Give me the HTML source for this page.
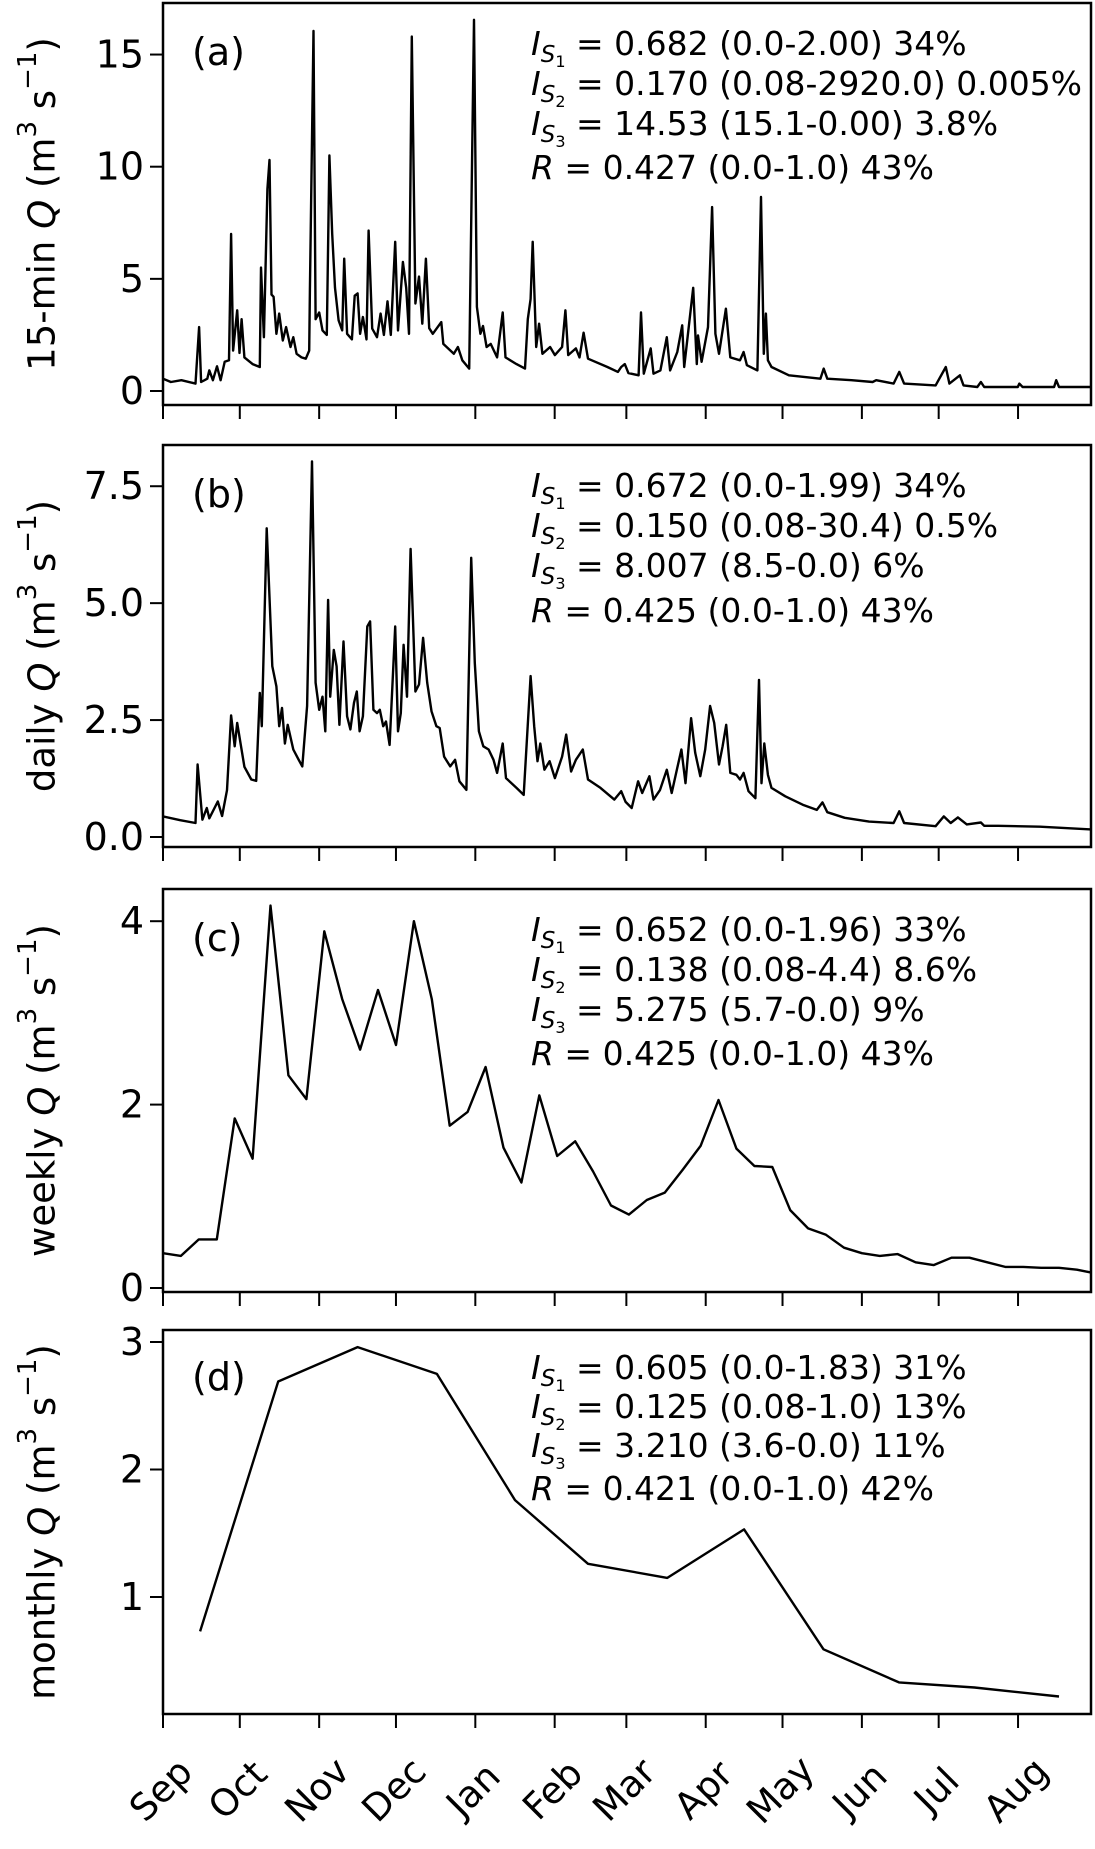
<!DOCTYPE html>
<html><head><meta charset="utf-8"><style>
html,body{margin:0;padding:0;background:#fff}
svg{display:block;font-family:"DejaVu Sans","Liberation Sans",sans-serif}
</style></head><body>
<svg id="chart" width="1095" height="1849" viewBox="0 0 1095 1849"></svg>
<script>
const months=["Sep","Oct","Nov","Dec","Jan","Feb","Mar","Apr","May","Jun","Jul","Aug"];
const monthStartDays=[0,30,61,91,122,153,181,212,242,273,303,334];
// (a) 15-min
const qDays15=[0,3.1,7.2,12.7,14.1,14.9,17.3,18.1,19.5,21.1,22.5,24.1,25.8,26.6,27.4,29.0,29.9,30.7,31.8,35.0,37.8,38.3,39.4,40.8,41.6,42.4,43.2,44.3,45.4,46.8,48.1,49.8,50.9,52.2,54.1,55.8,57.1,57.4,58.8,59.6,61.0,62.3,64.0,65.0,66.1,67.2,68.6,70.0,70.8,71.9,73.8,74.9,76.0,77.0,78.1,79.5,80.3,81.7,83.6,85.0,86.3,87.7,89.0,90.7,91.8,93.7,95.0,96.1,97.2,98.6,100.0,101.3,102.7,104.0,105.4,108.7,109.5,113.6,115.2,116.9,119.6,121.5,122.6,124.0,125.0,126.4,128.0,130.5,132.7,133.8,138.1,141.4,142.5,143.6,144.4,145.8,146.9,148.2,151.2,153.1,155.9,157.2,158.3,161.3,162.7,164.3,166.0,173.6,177.7,179.0,180.4,181.8,185.8,186.7,187.8,190.5,191.6,194.3,196.8,198.1,200.9,202.8,203.6,207.1,208.5,209.0,210.4,212.9,214.5,215.8,217.2,219.9,221.6,225.4,226.8,228.1,232.2,233.6,234.7,235.5,236.3,237.7,244.5,256.8,258.1,259.5,269.0,277.2,278.6,285.4,287.6,289.5,301.8,305.8,307.2,311.3,312.7,318.1,319.5,320.8,333.9,334.5,335.8,348.1,348.9,350.0,362.6];
const qVals15=[0.55,0.4,0.48,0.33,2.85,0.4,0.55,0.92,0.48,1.1,0.48,1.3,1.37,7.0,1.8,3.6,1.7,3.2,1.5,1.2,1.07,5.5,2.4,9.0,10.3,4.3,4.2,2.55,3.45,2.25,2.85,1.96,2.4,1.66,1.5,1.44,1.8,4.5,16.05,3.2,3.5,2.7,2.5,10.5,7.0,4.6,3.15,2.7,5.9,2.55,2.3,4.25,4.35,2.55,3.3,2.3,7.15,2.78,2.4,3.45,2.5,4.0,2.5,6.65,2.7,5.75,4.6,2.55,15.8,3.9,5.1,3.0,5.9,2.8,2.55,3.07,2.1,1.66,1.96,1.37,1.0,16.55,3.75,2.55,2.9,1.96,2.1,1.5,3.5,1.5,1.2,1.0,3.2,4.1,6.65,1.96,3.0,1.66,1.96,1.6,1.96,3.6,1.6,1.9,1.5,2.6,1.44,1.07,0.85,1.07,1.2,0.8,0.7,3.5,0.77,1.9,0.77,0.92,2.4,0.92,1.74,2.93,1.07,4.6,1.2,2.48,1.3,2.85,8.2,2.55,1.66,3.67,1.5,1.37,1.74,1.15,0.92,8.65,1.66,3.45,1.37,1.07,0.7,0.55,1.0,0.55,0.48,0.4,0.48,0.33,0.85,0.33,0.25,1.07,0.33,0.7,0.25,0.18,0.4,0.18,0.18,0.33,0.18,0.18,0.48,0.18,0.18];
// (b) daily
const qDaysD=[0,6.7,12.7,13.5,15.4,17.1,18.1,21.4,23.1,25,26.6,28,29,30.4,31.8,34.5,36.4,37.8,38.6,40.5,42.7,44.3,45.4,46.5,47.6,48.7,50.9,53,54.4,56.3,58.2,59.6,61,62.3,63.4,64.5,65.3,66.7,67.8,68.9,70.5,71.9,73.2,74.6,75.7,76.8,78.1,79.8,80.9,82.2,83.6,84.7,86,87.1,88.5,90.7,91.8,92.9,94,95.3,96.7,98.6,100,101.6,103.2,104.9,106.8,108.1,109.8,112.2,114.1,115.8,118.5,120.4,121.8,123.4,125.1,127.2,129.1,130.5,132.7,134,138.1,140.9,143.6,145,146.3,147.4,149,151,153.1,155.9,157.5,159.4,161.3,164,166,170.9,176.3,179,180.7,183.1,185.6,187.2,190,191.6,194.1,196.8,198.7,200.9,202.5,204.1,206.3,207.9,209.9,211.8,213.7,215.3,217.2,218.6,220,221.6,224,225.4,226.8,228.7,231.4,232.8,233.8,234.9,236.3,237.7,243.1,249.9,255.4,257.6,259.5,266.3,275.8,285.4,287.6,289.5,301.8,305,307.7,310.5,314,319.5,320.8,326.3,342.6,362.6];
const qValsD=[0.44,0.36,0.3,1.55,0.37,0.62,0.4,0.76,0.45,1.0,2.6,1.94,2.44,1.97,1.5,1.23,1.2,3.08,2.37,6.6,3.65,3.22,2.37,2.76,2.0,2.4,1.87,1.65,1.51,2.8,8.03,3.3,2.72,3.0,2.26,5.07,3.0,4.0,3.65,2.4,4.18,2.58,2.3,2.87,3.11,2.26,2.58,4.5,4.61,2.72,2.65,2.72,2.37,2.47,1.97,4.5,2.26,2.65,4.11,3.0,6.16,3.11,3.26,4.26,3.3,2.69,2.37,2.33,1.72,1.51,1.65,1.19,1.01,5.97,3.72,2.26,1.94,1.87,1.65,1.37,2.0,1.26,1.05,0.9,3.44,2.37,1.62,2.0,1.44,1.62,1.26,1.72,2.19,1.4,1.65,1.87,1.23,1.05,0.8,0.98,0.75,0.62,1.19,0.94,1.3,0.8,1.0,1.44,0.94,1.48,1.87,1.15,2.54,1.8,1.3,1.87,2.8,2.44,1.55,1.94,2.4,1.37,1.33,1.23,1.37,0.98,0.83,3.36,1.15,2.0,1.33,1.05,0.87,0.69,0.58,0.74,0.53,0.41,0.33,0.3,0.55,0.3,0.23,0.44,0.3,0.42,0.27,0.31,0.24,0.24,0.22,0.16];
// (c) weekly (one value per week starting day 0)
const qWeekly=[0.38,0.35,0.53,0.53,1.85,1.41,4.17,2.32,2.06,3.89,3.15,2.6,3.25,2.65,4.0,3.15,1.77,1.92,2.41,1.53,1.15,2.1,1.44,1.6,1.27,0.9,0.8,0.96,1.04,1.29,1.55,2.05,1.52,1.33,1.32,0.85,0.65,0.58,0.44,0.38,0.35,0.37,0.28,0.25,0.33,0.33,0.28,0.23,0.23,0.22,0.22,0.2,0.16];
// (d) monthly
const qMonthDays=[14.5,45,76,107,137.5,166,197,227,258,287.5,317,350];
const qMonthly=[0.73,2.69,2.96,2.75,1.76,1.26,1.15,1.53,0.59,0.33,0.29,0.22];

const NS="http://www.w3.org/2000/svg";
const svg=document.getElementById('chart');
function el(tag,attrs,parent){const e=document.createElementNS(NS,tag);for(const k in attrs)e.setAttribute(k,attrs[k]);(parent||svg).appendChild(e);return e;}
const X0=163,X1=1091,PX=2.56;
function xs(d){return X0+d*PX;}

const panels=[
 {key:'a',top:3,bot:405,y:v=>391-v*22.43,ticks:[0,5,10,15],tl:['0','5','10','15'],ylab:'15-min',lab:'(a)',labY:62,
  stats:[['1','0.682 (0.0-2.00) 34%'],['2','0.170 (0.08-2920.0) 0.005%'],['3','14.53 (15.1-0.00) 3.8%'],['R','0.427 (0.0-1.0) 43%']],sy:[52,92,132,176]},
 {key:'b',top:445,bot:847,y:v=>837-v*46.77,ticks:[0,2.5,5,7.5],tl:['0.0','2.5','5.0','7.5'],ylab:'daily',lab:'(b)',labY:62,
  stats:[['1','0.672 (0.0-1.99) 34%'],['2','0.150 (0.08-30.4) 0.5%'],['3','8.007 (8.5-0.0) 6%'],['R','0.425 (0.0-1.0) 43%']],sy:[52,92,132,177]},
 {key:'c',top:889,bot:1292,y:v=>1288-v*91.7,ticks:[0,2,4],tl:['0','2','4'],ylab:'weekly',lab:'(c)',labY:62,
  stats:[['1','0.652 (0.0-1.96) 33%'],['2','0.138 (0.08-4.4) 8.6%'],['3','5.275 (5.7-0.0) 9%'],['R','0.425 (0.0-1.0) 43%']],sy:[52,92,132,176]},
 {key:'d',top:1330,bot:1714,y:v=>1597-(v-1)*127.5,ticks:[1,2,3],tl:['1','2','3'],ylab:'monthly',lab:'(d)',labY:60,
  stats:[['1','0.605 (0.0-1.83) 31%'],['2','0.125 (0.08-1.0) 13%'],['3','3.210 (3.6-0.0) 11%'],['R','0.421 (0.0-1.0) 42%']],sy:[49,88,127,170]}
];
const series={
 a:[qDays15,qVals15],
 b:[qDaysD,qValsD],
 c:[qWeekly.map((v,i)=>i*7),qWeekly],
 d:[qMonthDays,qMonthly]
};
const defs=el('defs',{});
panels.forEach(p=>{
  const g=el('g',{});
  
  
  const cp=el('clipPath',{id:'clip'+p.key},defs);
  el('rect',{x:X0,y:p.top,width:X1-X0,height:p.bot-p.top},cp);
  const [ds,vs]=series[p.key];
  let d='';
  ds.forEach((dd,i)=>{d+=(i?'L':'M')+xs(dd).toFixed(1)+','+p.y(vs[i]).toFixed(1);});
  const line=el('path',{d:d,fill:'none',stroke:'#000','stroke-width':2.4,'stroke-linejoin':'round','clip-path':'url(#clip'+p.key+')'},g);
  
  
  const fr=el('rect',{x:X0,y:p.top,width:X1-X0,height:p.bot-p.top,fill:'none',stroke:'#000','stroke-width':2.5},g);
  
  
  p.ticks.forEach((t,i)=>{
    const yy=p.y(t);
    el('line',{x1:X0-13,x2:X0,y1:yy,y2:yy,stroke:'#000','stroke-width':2},g);
    const tx=el('text',{x:X0-19,y:yy,'text-anchor':'end','dominant-baseline':'central','font-size':38},g);
    tx.textContent=p.tl[i];
    
    
  });
  monthStartDays.forEach(m=>{
    el('line',{x1:xs(m),x2:xs(m),y1:p.bot,y2:p.bot+14,stroke:'#000','stroke-width':2},g);
  });
  const cy=(p.top+p.bot)/2;
  const yl=el('text',{x:0,y:0,'text-anchor':'middle','dominant-baseline':'central','font-size':37,transform:`translate(42,${cy}) rotate(-90)`},g);
  
  
  yl.innerHTML=p.ylab+' <tspan font-style="italic">Q</tspan> (m<tspan dy="-14" font-size="26">3</tspan><tspan dy="14"> s</tspan><tspan dy="-14" font-size="26">−1</tspan><tspan dy="14">)</tspan>';
  const pl=el('text',{x:192,y:p.top+p.labY,'font-size':38},g);
  pl.textContent=p.lab;
  
  
  p.stats.forEach((s,i)=>{
    const t=el('text',{x:531,y:p.top+p.sy[i],'font-size':33},g);
    
    
    if(s[0]==='R'){
      t.innerHTML='<tspan font-style="italic">R</tspan> = '+s[1];
    }else{
      t.innerHTML='<tspan font-style="italic">I</tspan><tspan font-style="italic" font-size="23" dy="7">S</tspan><tspan font-size="16" dy="5">'+s[0]+'</tspan><tspan dy="-12"> = '+s[1]+'</tspan>';
    }
  });
});
months.forEach((m,i)=>{
  const t=el('text',{x:0,y:0,'text-anchor':'middle','dominant-baseline':'central','font-size':37,transform:`translate(${xs(monthStartDays[i])-2},1790) rotate(-45)`});
  t.textContent=m;
  
  
});
</script>
</body></html>
